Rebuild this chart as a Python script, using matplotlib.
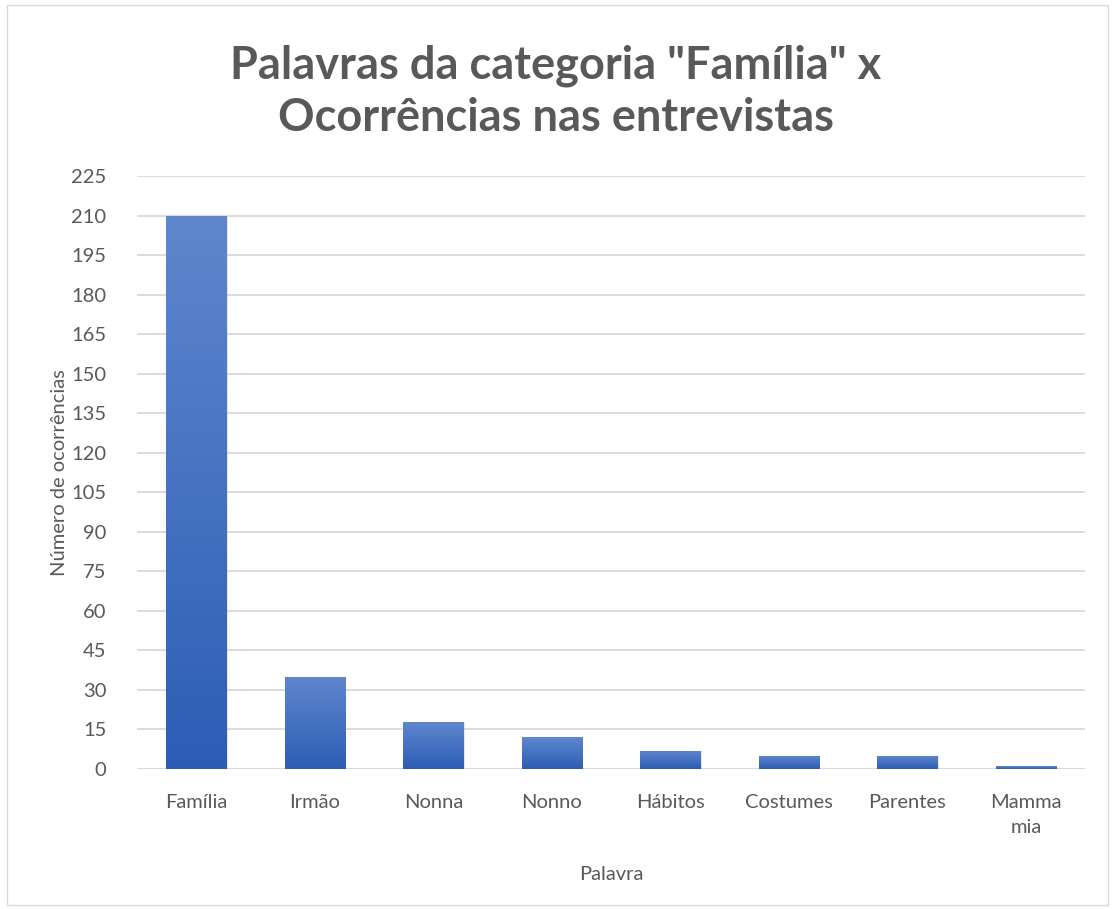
import matplotlib.pyplot as plt
import numpy as np
from matplotlib.patches import Rectangle
from matplotlib.colors import LinearSegmentedColormap

plt.switch_backend('agg')
plt.rcParams['font.family'] = ['Lato', 'DejaVu Sans']

palavras = ['Família', 'Irmão', 'Nonna', 'Nonno', 'Hábitos', 'Costumes', 'Parentes', 'Mamma\nmia']
ocorrencias = [210, 35, 18, 12, 7, 5, 5, 1]
yticks = list(range(0, 226, 15))

cinza = '#595959'

fig = plt.figure(figsize=(11.12, 9.09), dpi=100)
ax = fig.add_axes([137 / 1112, 1 - 769 / 909, (1085 - 137) / 1112, (769 - 176) / 909])

x = np.arange(len(palavras))
largura = 0.51
bars = ax.bar(x, ocorrencias, width=largura, color='none', zorder=3)

# degrade em cada barra (claro em cima, escuro embaixo)
grad = np.linspace(0, 1, 256).reshape(-1, 1)
cmap = LinearSegmentedColormap.from_list('azul', ['#2C5DB5', '#5F87CD'])
for b in bars:
    x0, w, h = b.get_x(), b.get_width(), b.get_height()
    # sombra
    ax.add_patch(Rectangle((x0 + 0.01, -0.6), w, h + 0.4, color='#bbbbbb', alpha=0.35, zorder=2, lw=0))
    im = ax.imshow(grad, extent=[x0, x0 + w, 0, h], origin='lower', cmap=cmap,
                   aspect='auto', zorder=3)
    im.set_clip_path(b)

ax.set_xlim(-0.5, len(palavras) - 0.5)
ax.set_ylim(0, 225)
ax.set_yticks(yticks)
ax.set_xticks(x)
ax.set_xticklabels(palavras, linespacing=1.55)
ax.yaxis.grid(True, color='#D9D9D9', linewidth=1.3, zorder=0)
ax.set_axisbelow(True)
for s in ax.spines.values():
    s.set_visible(False)
ax.axhline(0, color='#D9D9D9', linewidth=1.5, zorder=1)
ax.tick_params(length=0, labelsize=14.5, colors=cinza)
ax.tick_params(axis='x', pad=18)
ax.tick_params(axis='y', pad=22)

ax.set_xlabel('Palavra', fontsize=14.5, color=cinza, labelpad=22)
ax.set_ylabel('Número de ocorrências', fontsize=14.5, color=cinza, labelpad=2)

fig.text(0.5, 1 - 92 / 909, 'Palavras da categoria "Família" x\nOcorrências nas entrevistas',
         ha='center', va='center', fontsize=32.5, fontweight='bold', color=cinza, linespacing=1.3)

fig.patches.append(Rectangle((0.006, 0.004), 0.99, 0.99, transform=fig.transFigure,
                             fill=False, edgecolor='#D9D9D9', linewidth=1))

fig.savefig('out.png', dpi=100)
